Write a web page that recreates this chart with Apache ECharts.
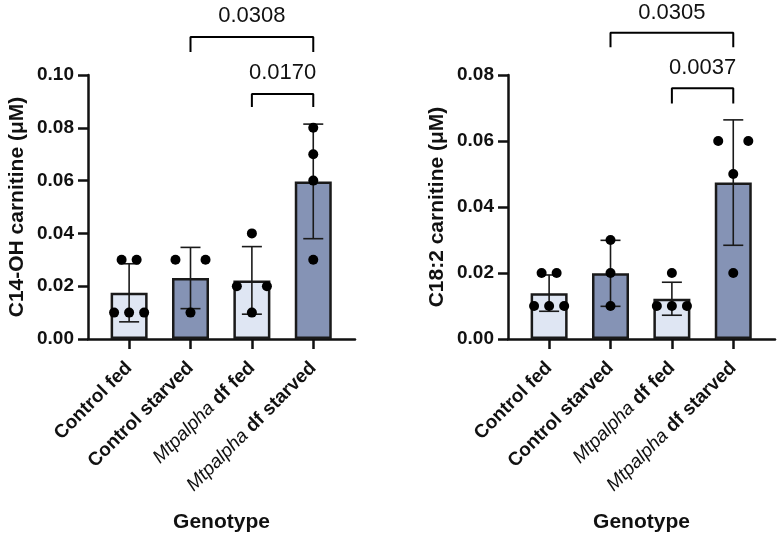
<!DOCTYPE html>
<html>
<head>
<meta charset="utf-8">
<script src="https://cdn.jsdelivr.net/npm/echarts@6/dist/echarts.min.js"></script>
<style>html,body{margin:0;padding:0;background:#fff;}#c{width:780px;height:538px;}</style>
</head>
<body>
<div id="c"></div>
<script>
// ---------- data ----------
const categories = ['Control fed', 'Control starved', 'Mtpalpha df fed', 'Mtpalpha df starved'];
const fills = ['light', 'dark', 'light', 'dark'];

// Left: C14-OH carnitine
const leftMean = [0.0175, 0.0231, 0.0222, 0.0597];
const leftSD = [0.0110, 0.0116, 0.0128, 0.0217];
const leftPoints = [[0.03, 0.03, 0.01, 0.01, 0.01], [0.03, 0.03, 0.01], [0.04, 0.02, 0.02, 0.01], [0.08, 0.07, 0.06, 0.03]];
const leftSlots = [[-0.5, 0.5, -1, 0, 1], [-1, 1, 0], [0, -1, 1, 0], [0, 0, 0, 0]];
const leftYTicks = [0, 0.02, 0.04, 0.06, 0.08, 0.10];
const leftBrFrom = [1, 2], leftBrTo = [3, 3];
const leftBrTop = [0.1144, 0.0928], leftBrBottom = [0.1087, 0.0879];
const leftPText = ['0.0308', '0.0170'], leftPTextY = [0.1223, 0.1009];

// Right: C18:2 carnitine
const rightMean = [0.0139, 0.0199, 0.0122, 0.0474];
const rightSD = [0.0055, 0.0100, 0.0050, 0.0190];
const rightPoints = [[0.02, 0.02, 0.01, 0.01, 0.01], [0.03, 0.02, 0.01], [0.02, 0.01, 0.01, 0.01], [0.06, 0.06, 0.05, 0.02]];
const rightSlots = [[-0.5, 0.5, -1, 0, 1], [0, 0, 0], [0, -1, 0, 1], [-1, 1, 0, 0]];
const rightYTicks = [0, 0.02, 0.04, 0.06, 0.08];
const rightBrFrom = [1, 2], rightBrTo = [3, 3];
const rightBrTop = [0.0928, 0.0760], rightBrBottom = [0.0884, 0.0714];
const rightPText = ['0.0305', '0.0037'], rightPTextY = [0.0987, 0.0820];

// ---------- styling ----------
const FONT = 'Liberation Sans, Arial, sans-serif';
const LIGHT = '#dfe6f3', DARK = '#8593b5', INK = '#111';
const SLOT = 0.245;

function catLabel(i) {
  const c = categories[i];
  if (c.startsWith('Mtpalpha')) return '{i|Mtpalpha}{b| ' + c.slice(9) + '}';
  return '{b|' + c + '}';
}

function xAxisDef(gi) {
  return {
    type: 'value', gridIndex: gi, min: -0.67, max: 3.68,
    splitLine: {show: false},
    axisLine: {onZero: false, lineStyle: {color: INK, width: 2.5}},
    axisTick: {show: true, customValues: [0, 1, 2, 3], length: 10, lineStyle: {color: INK, width: 2.5}},
    axisLabel: {
      customValues: [0, 1, 2, 3], rotate: 45, margin: 26,
      formatter: v => catLabel(Math.round(v)),
      rich: {
        b: {fontFamily: FONT, fontWeight: 'bold', fontSize: 19, color: INK},
        i: {fontFamily: FONT, fontStyle: 'italic', fontSize: 19, color: INK}
      }
    },
    name: 'Genotype', nameLocation: 'middle', nameGap: 173,
    nameTextStyle: {fontFamily: FONT, fontWeight: 'bold', fontSize: 21, color: INK}
  };
}

function yAxisDef(gi, max, name, ticks) {
  return {
    type: 'value', gridIndex: gi, min: 0, max: max, interval: 0.02,
    splitLine: {show: false},
    axisLine: {show: true, onZero: false, lineStyle: {color: INK, width: 2.5}},
    axisTick: {show: true, length: 10, lineStyle: {color: INK, width: 2.5}},
    axisLabel: {margin: 14, formatter: v => v.toFixed(2), fontFamily: FONT, fontWeight: 'bold', fontSize: 19, color: INK},
    name: name, nameLocation: 'middle', nameGap: 60,
    nameTextStyle: {fontFamily: FONT, fontWeight: 'bold', fontSize: 21, color: INK}
  };
}

function seriesFor(gi, mean, sd, points, slots, brFrom, brTo, brTop, brBottom, pText, pTextY) {
  const out = [];
  out.push({
    type: 'bar', xAxisIndex: gi, yAxisIndex: gi, barWidth: 37, z: 2,
    data: mean.map((m, i) => ({value: [i, m], itemStyle: {color: fills[i] === 'light' ? LIGHT : DARK, borderColor: '#1a1a1a', borderWidth: 2.5}})),
    silent: true
  });
  out.push({
    type: 'custom', xAxisIndex: gi, yAxisIndex: gi, z: 3, silent: true,
    data: mean.map((m, i) => [i, m - sd[i], m + sd[i]]),
    renderItem: (params, api) => {
      const lo = api.coord([api.value(0), api.value(1)]);
      const hi = api.coord([api.value(0), api.value(2)]);
      const st = {stroke: '#1a1a1a', lineWidth: 1.6};
      return {type: 'group', children: [
        {type: 'line', shape: {x1: lo[0], y1: lo[1], x2: hi[0], y2: hi[1]}, style: st},
        {type: 'line', shape: {x1: lo[0] - 10, y1: lo[1], x2: lo[0] + 10, y2: lo[1]}, style: st},
        {type: 'line', shape: {x1: hi[0] - 10, y1: hi[1], x2: hi[0] + 10, y2: hi[1]}, style: st}
      ]};
    }
  });
  const pts = [];
  points.forEach((g, i) => g.forEach((v, k) => pts.push([i + slots[i][k] * SLOT, v])));
  out.push({
    type: 'scatter', xAxisIndex: gi, yAxisIndex: gi, z: 4, silent: true,
    symbolSize: 10, itemStyle: {color: '#000', opacity: 1}, data: pts
  });
  brFrom.forEach((f, b) => {
    out.push({
      type: 'line', xAxisIndex: gi, yAxisIndex: gi, clip: false, z: 5, silent: true,
      symbol: 'none', lineStyle: {color: '#000', width: 2},
      data: [[f, brBottom[b]], [f, brTop[b]], [brTo[b], brTop[b]], [brTo[b], brBottom[b]]]
    });
  });
  out.push({
    type: 'custom', xAxisIndex: gi, yAxisIndex: gi, clip: false, z: 6, silent: true,
    data: pText.map((t, b) => [(brFrom[b] + brTo[b]) / 2, pTextY[b], b]),
    renderItem: (params, api) => {
      const p = api.coord([api.value(0), api.value(1)]);
      return {type: 'text', x: p[0], y: p[1], style: {
        text: pText[api.value(2)], fill: '#111', font: '22px ' + FONT, align: 'center', verticalAlign: 'middle'
      }};
    }
  });
  return out;
}

const chart = echarts.init(document.getElementById('c'), null, {renderer: 'canvas'});
chart.setOption({
  backgroundColor: '#fff',
  animation: false,
  grid: [
    {left: 88, top: 75, width: 267, height: 264},
    {left: 508, top: 75, width: 267, height: 264}
  ],
  xAxis: [xAxisDef(0), xAxisDef(1)],
  yAxis: [yAxisDef(0, 0.10, 'C14-OH carnitine (μM)'), yAxisDef(1, 0.08, 'C18:2 carnitine (μM)')],
  series: [].concat(
    seriesFor(0, leftMean, leftSD, leftPoints, leftSlots, leftBrFrom, leftBrTo, leftBrTop, leftBrBottom, leftPText, leftPTextY),
    seriesFor(1, rightMean, rightSD, rightPoints, rightSlots, rightBrFrom, rightBrTo, rightBrTop, rightBrBottom, rightPText, rightPTextY)
  )
});
</script>
</body>
</html>
